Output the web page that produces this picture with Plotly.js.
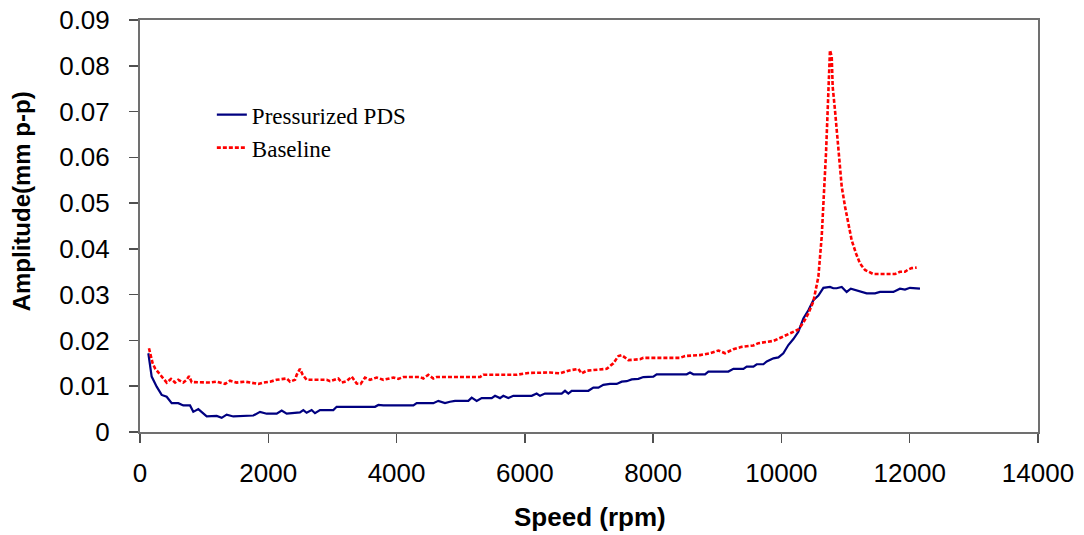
<!DOCTYPE html>
<html>
<head>
<meta charset="utf-8">
<script src="https://cdn.plot.ly/plotly-3.0.1.min.js"></script>
<style>html,body{margin:0;padding:0;background:#fff;}#chart{width:1084px;height:535px;}</style>
</head>
<body>
<div id="chart"></div>
<script>
// Pressurized PDS
const pdsSpeed = [130,182,260,338,416,494,597,675,780,831,909,1040,1196,1273,1351,1455,1767,1871,1975,2131,2209,2287,2494,2546,2598,2676,2728,2806,3014,3066,3664,3716,3794,4262,4314,4573,4651,4755,4833,4911,5119,5171,5249,5327,5483,5535,5612,5664,5742,5820,6107,6184,6236,6314,6574,6626,6678,6730,6990,7068,7146,7223,7327,7432,7510,7588,7666,7770,7847,8003,8055,8523,8575,8627,8809,8861,9173,9251,9407,9459,9563,9615,9719,9771,9875,9953,10030,10108,10186,10264,10342,10420,10498,10576,10654,10757,10809,10862,10940,11017,11082,11173,11329,11459,11537,11745,11848,11926,12004,12160];
const pdsAmp = [0.0172,0.0121,0.0099,0.0081,0.0077,0.0063,0.0063,0.0058,0.0058,0.0044,0.0050,0.0034,0.0035,0.0031,0.0038,0.0034,0.0036,0.0044,0.0040,0.0040,0.0047,0.0040,0.0043,0.0048,0.0042,0.0048,0.0041,0.0048,0.0048,0.0055,0.0055,0.0059,0.0058,0.0058,0.0063,0.0063,0.0068,0.0063,0.0066,0.0068,0.0068,0.0075,0.0068,0.0074,0.0074,0.0079,0.0074,0.0079,0.0074,0.0079,0.0079,0.0084,0.0079,0.0084,0.0084,0.0090,0.0084,0.0090,0.0090,0.0097,0.0097,0.0103,0.0105,0.0105,0.0110,0.0111,0.0115,0.0116,0.0120,0.0121,0.0126,0.0126,0.0130,0.0126,0.0126,0.0132,0.0132,0.0138,0.0138,0.0143,0.0143,0.0148,0.0148,0.0154,0.0161,0.0163,0.0172,0.0190,0.0203,0.0219,0.0248,0.0266,0.0288,0.0298,0.0315,0.0317,0.0314,0.0314,0.0317,0.0306,0.0313,0.0309,0.0303,0.0303,0.0306,0.0306,0.0313,0.0311,0.0315,0.0313];

// Baseline
const baseSpeed = [140,166,197,234,301,364,416,483,546,597,675,728,764,806,1091,1196,1325,1403,1507,1637,1715,1845,1923,2027,2131,2287,2339,2417,2443,2494,2537,2598,2910,2962,3092,3144,3222,3300,3378,3440,3508,3586,3690,3794,3949,4027,4105,4365,4417,4495,4573,4625,5300,5352,5872,6050,6392,6548,6678,6834,6886,6964,7276,7380,7458,7510,7614,7796,7847,8419,8497,8731,8887,9017,9121,9251,9381,9563,9641,9875,10004,10134,10264,10342,10420,10498,10576,10628,10664,10695,10721,10742,10757,10784,10799,10835,10862,10903,10940,10992,11044,11095,11163,11225,11303,11433,11771,11848,11926,11978,12030,12108];
const baseAmp = [0.0183,0.0166,0.0150,0.0139,0.0127,0.0117,0.0108,0.0116,0.0108,0.0114,0.0108,0.0114,0.0122,0.0109,0.0108,0.0110,0.0105,0.0112,0.0108,0.0110,0.0108,0.0105,0.0108,0.0110,0.0114,0.0117,0.0110,0.0114,0.0125,0.0138,0.0125,0.0114,0.0114,0.0111,0.0117,0.0108,0.0111,0.0121,0.0106,0.0105,0.0119,0.0114,0.0119,0.0114,0.0119,0.0116,0.0120,0.0120,0.0117,0.0125,0.0117,0.0120,0.0120,0.0125,0.0125,0.0129,0.0130,0.0128,0.0134,0.0138,0.0128,0.0134,0.0138,0.0150,0.0166,0.0168,0.0157,0.0159,0.0162,0.0162,0.0166,0.0168,0.0172,0.0178,0.0172,0.0181,0.0186,0.0189,0.0194,0.0199,0.0207,0.0216,0.0224,0.0239,0.0259,0.0285,0.0339,0.0427,0.0521,0.0609,0.0703,0.0769,0.0834,0.0820,0.0754,0.0703,0.0660,0.0594,0.0536,0.0492,0.0452,0.0419,0.0390,0.0368,0.0354,0.0345,0.0345,0.0350,0.0350,0.0355,0.0358,0.0359];

const xTicks = [0,2000,4000,6000,8000,10000,12000,14000];
const xTickText = ['0','2000','4000','6000','8000','10000','12000','14000'];
const yTicks = [0,0.01,0.02,0.03,0.04,0.05,0.06,0.07,0.08,0.09];
const yTickText = ['0','0.01','0.02','0.03','0.04','0.05','0.06','0.07','0.08','0.09'];

const traces = [
  {x: pdsSpeed, y: pdsAmp, type: 'scatter', mode: 'lines', name: 'Pressurized PDS',
   line: {color: '#000080', width: 2.2}},
  {x: baseSpeed, y: baseAmp, type: 'scatter', mode: 'lines', name: 'Baseline',
   line: {color: '#FF0000', width: 2.6, dash: '4px,2px'}}
];

const axisCommon = {
  showline: true, mirror: true, linecolor: '#707070', linewidth: 2,
  ticks: 'outside', ticklen: 9, tickwidth: 1.5, tickcolor: '#505050',
  showgrid: false, zeroline: false,
  tickfont: {family: 'Liberation Sans, Arial', size: 26, color: '#000'}
};

const layout = {
  width: 1084, height: 535,
  margin: {l: 140, r: 46, t: 20, b: 103},
  paper_bgcolor: '#fff', plot_bgcolor: '#fff',
  showlegend: true,
  legend: {x: 0.08, y: 0.73, xanchor: 'left', yanchor: 'middle',
    font: {family: 'Liberation Serif, Times New Roman', size: 23, color: '#000'},
    bgcolor: 'rgba(0,0,0,0)', borderwidth: 0, tracegroupgap: 0},
  xaxis: Object.assign({}, axisCommon, {range: [0, 14000], tickvals: xTicks, ticktext: xTickText, ticklabelstandoff: 8}),
  yaxis: Object.assign({}, axisCommon, {range: [0, 0.09], tickvals: yTicks, ticktext: yTickText, ticklabelstandoff: 14}),
  annotations: [
    {text: 'Speed (rpm)', xref: 'paper', yref: 'paper', x: 0.501, y: -0.206,
     xanchor: 'center', yanchor: 'middle', showarrow: false,
     font: {family: 'Liberation Sans, Arial', size: 26, color: '#000', weight: 'bold'}},
    {text: 'Amplitude(mm p-p)', xref: 'paper', yref: 'paper', x: -0.132, y: 0.561,
     xanchor: 'center', yanchor: 'middle', textangle: -90, showarrow: false,
     font: {family: 'Liberation Sans, Arial', size: 24, color: '#000', weight: 'bold'}}
  ]
};

Plotly.newPlot('chart', traces, layout, {displayModeBar: false, staticPlot: true});
</script>
</body>
</html>
